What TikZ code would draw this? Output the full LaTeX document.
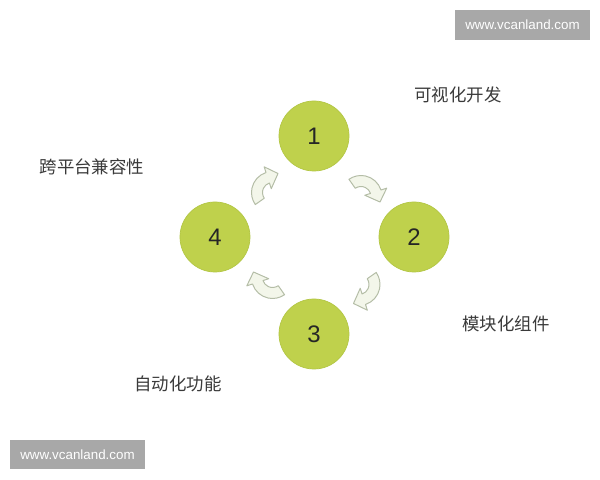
\documentclass[tikz,border=0pt]{standalone}
\usepackage{fontspec}
\setmainfont{Liberation Sans}
\newfontfamily\cjk{Noto Sans CJK SC}
\usetikzlibrary{calc}
\definecolor{ballgreen}{HTML}{BFD14C}
\definecolor{balledge}{HTML}{B3C644}
\definecolor{arrowedge}{HTML}{B4BDA6}
\definecolor{arrowfill}{HTML}{F3F6EA}
\definecolor{labelgray}{HTML}{3A3A3A}
\definecolor{markgray}{HTML}{A8A8A8}

\begin{document}
\begin{tikzpicture}[
  x=0.025cm,y=0.025cm,
  ball/.style={circle,minimum size=1.75cm,inner sep=0pt,fill=ballgreen,draw=balledge,
    line width=0.5pt,text=black!85,font=\fontsize{17}{17}\selectfont},
  step label/.style={text=labelgray,font=\cjk\fontsize{12.4}{14}\selectfont},
  watermark/.style={fill=markgray,text=white,minimum width=3.375cm,minimum height=0.74cm,
    inner sep=0pt,font=\fontsize{9.5}{10}\selectfont},
  arrowline/.style={draw=arrowedge,fill=arrowfill,line width=0.7pt,line join=round},
  flow arrow/.pic={
    % curved hollow arrow, arc centre at (8,-6)
    \begin{scope}[shift={(8,-6)}]
      \filldraw[arrowline] (215:10) arc (215:108:10) -- (108:4) -- (5.5,19)
        -- (108:27) -- (108:21) arc (108:215:21) -- cycle;
    \end{scope}
  }
  ]
\fill[white] (0,0) rectangle (600,480);
\useasboundingbox (0,0) rectangle (600,480);

% the four steps
\node[ball] (n1) at (314,344) {1};
\node[ball] (n2) at (414,243) {2};
\node[ball] (n3) at (314,146) {3};
\node[ball] (n4) at (215,243) {4};

% arrows between them, clockwise
\pic at ($(n4)!0.5!(n1)$) {flow arrow};
\pic[rotate=-90] at ($(n1)!0.5!(n2)+(3,-2)$) {flow arrow};
\pic[rotate=180] at ($(n2)!0.5!(n3)+(3,-5)$) {flow arrow};
\pic[rotate=90] at ($(n3)!0.5!(n4)+(2,0)$) {flow arrow};

% labels
\node[step label] (lab1) at (458,385) {可视化开发};
\node[step label] (lab2) at (506,156) {模块化组件};
\node[step label] (lab3) at (178,96) {自动化功能};
\node[step label] (lab4) at (92,313) {跨平台兼容性};

% site marks
\node[watermark] (mark1) at (522.5,455) {www.vcanland.com};
\node[watermark] (mark2) at (77.5,25.5) {www.vcanland.com};
\end{tikzpicture}
\end{document}
